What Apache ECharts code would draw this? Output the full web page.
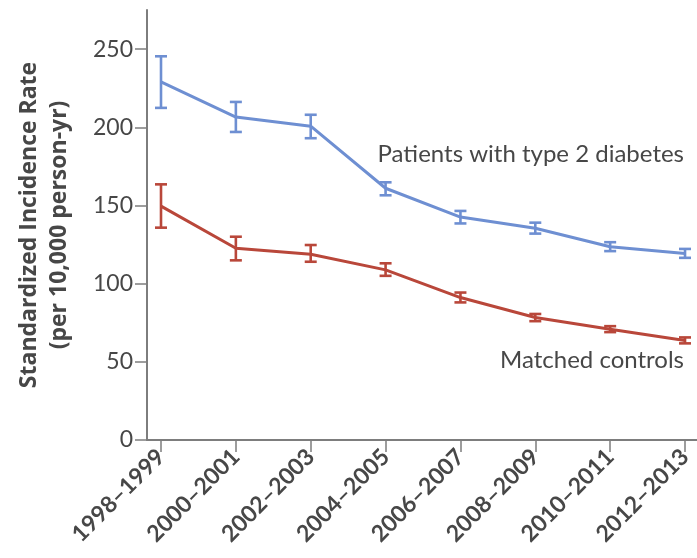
<!DOCTYPE html>
<html><head><meta charset="utf-8">
<script src="https://cdn.jsdelivr.net/npm/echarts@6/dist/echarts.min.js"></script>
<style>html,body{margin:0;padding:0;background:#fff}#c{width:697px;height:558px}</style>
</head><body><div id="c"></div>
<script>
const categories = ['1998\u20131999','2000\u20132001','2002\u20132003','2004\u20132005','2006\u20132007','2008\u20132009','2010\u20132011','2012\u20132013'];
const diabetesRate = [229, 206.5, 200.7, 161, 142.6, 135.4, 123.6, 119.3];
const diabetesLow  = [212.4, 197, 193, 156.5, 138.5, 132, 120.8, 116.5];
const diabetesHigh = [245.4, 216.2, 208, 164.8, 146.5, 139, 126.5, 122.2];
const controlRate = [149.6, 122.6, 118.8, 108.8, 91.1, 78.3, 70.8, 63.6];
const controlLow  = [135.8, 114.9, 114, 105, 88, 76, 69, 61.8];
const controlHigh = [163.5, 130, 124.7, 113, 94.3, 80.6, 72.8, 65.6];
const yTicks = [0, 50, 100, 150, 200, 250];
const seriesLabels = ['Patients with type 2 diabetes', 'Matched controls'];

const BLUE = '#6e8fd2', RED = '#b9473a', TXT = '#474747', AX = '#7d7d7d';
const FONT = 'Lato';

function pts(vals){ return vals.map((v,i)=>[i,v]); }
function errs(lo,hi){ return lo.map((l,i)=>[i,l,hi[i]]); }
function errSeries(lo,hi,color){
  return {
    type:'custom', data: errs(lo,hi), z:3,
    renderItem:function(params, api){
      const x = api.value(0);
      const a = api.coord([x, api.value(1)]);
      const b = api.coord([x, api.value(2)]);
      const w = 6;
      const st = {stroke:color, lineWidth:2.6, fill:null};
      return {type:'group', children:[
        {type:'line', shape:{x1:a[0],y1:a[1],x2:b[0],y2:b[1]}, style:st},
        {type:'line', shape:{x1:a[0]-w,y1:a[1],x2:a[0]+w,y2:a[1]}, style:st},
        {type:'line', shape:{x1:b[0]-w,y1:b[1],x2:b[0]+w,y2:b[1]}, style:st}
      ]};
    }
  };
}

const chart = echarts.init(document.getElementById('c'), null, {renderer:'canvas'});
chart.setOption({
  animation:false,
  backgroundColor:'#fff',
  grid:{left:147, right:0, top:10, bottom:118, containLabel:false},
  xAxis:{
    type:'value', min:-0.187, max:7.16,
    splitLine:{show:false},
    axisLine:{show:true, onZero:false, lineStyle:{color:AX, width:2}},
    axisTick:{show:true, customValues:categories.map((c,i)=>i), length:12, lineStyle:{color:AX, width:1.5}},
    axisLabel:{customValues:categories.map((c,i)=>i), rotate:45, margin:13, color:TXT, fontFamily:FONT, fontSize:23, fontWeight:'bold',
      formatter:function(v){ return categories[Math.round(v)]; }}
  },
  yAxis:{
    type:'value', min:0, max:275,
    splitLine:{show:false},
    axisLine:{show:true, onZero:false, lineStyle:{color:AX, width:2}},
    axisTick:{show:true, customValues:yTicks, length:12, lineStyle:{color:AX, width:1.5}},
    axisLabel:{customValues:yTicks, margin:14, color:TXT, fontFamily:FONT, fontSize:23},
    name:'Standardized Incidence Rate\n(per 10,000 person-yr)',
    nameLocation:'middle', nameGap:73, nameRotate:90,
    nameTextStyle:{color:TXT, fontFamily:'Open Sans', fontSize:23, fontWeight:'bold', lineHeight:30, align:'center'}
  },
  series:[
    {type:'line', data:pts(diabetesRate), showSymbol:false, lineStyle:{color:BLUE, width:3}, itemStyle:{color:BLUE}, z:2},
    {type:'line', data:pts(controlRate), showSymbol:false, lineStyle:{color:RED, width:3}, itemStyle:{color:RED}, z:2},
    errSeries(diabetesLow, diabetesHigh, BLUE),
    errSeries(controlLow, controlHigh, RED)
  ],
  graphic:[
    {type:'text', right:13, top:142, style:{text:seriesLabels[0], fill:TXT, font:'24px '+FONT}},
    {type:'text', right:13, top:348, style:{text:seriesLabels[1], fill:TXT, font:'24px '+FONT}}
  ]
});
</script></body></html>
